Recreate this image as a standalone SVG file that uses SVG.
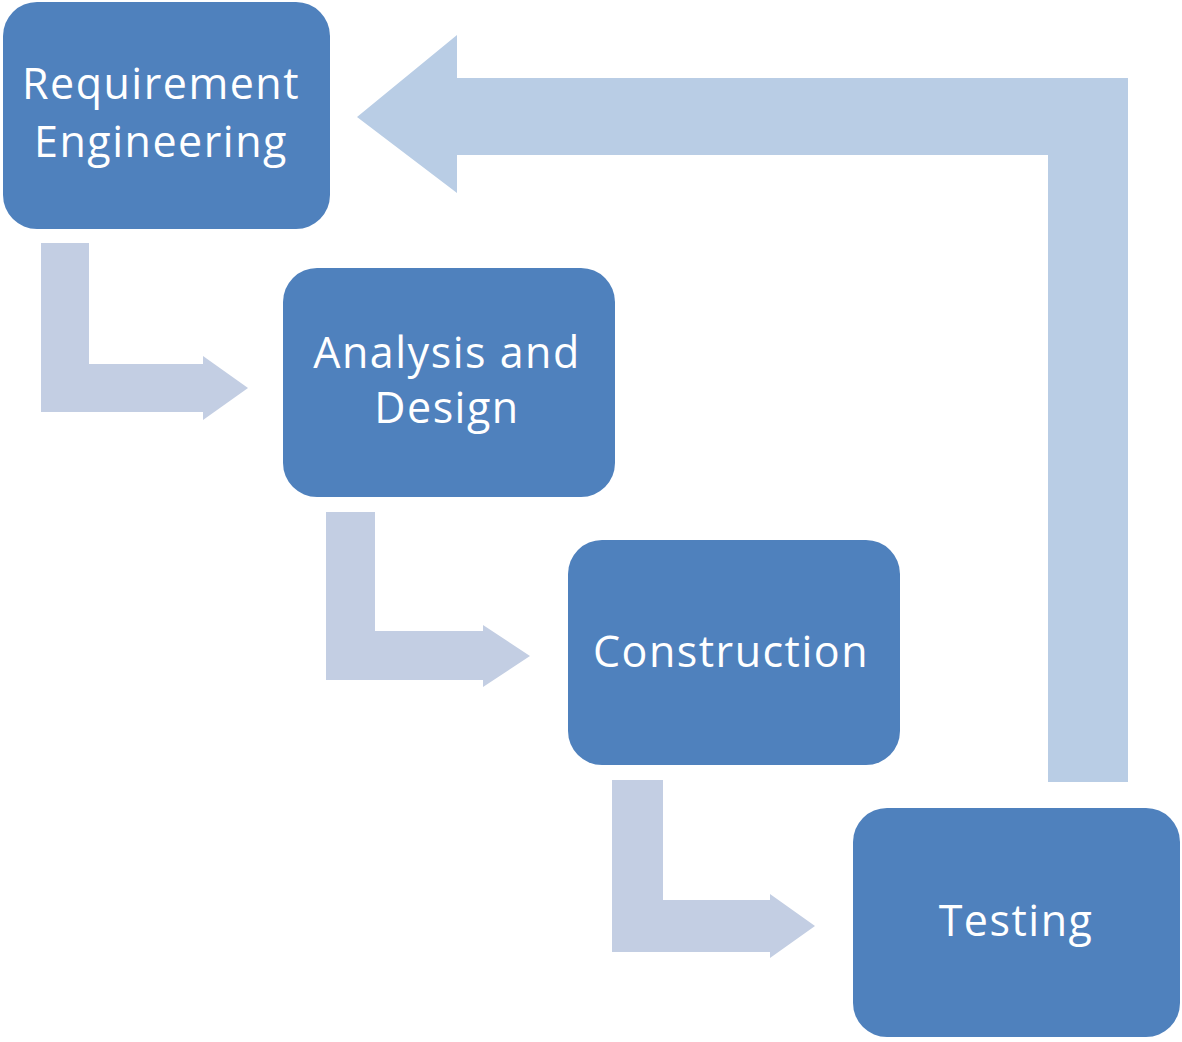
<svg xmlns="http://www.w3.org/2000/svg" width="1182" height="1042" viewBox="0 0 1182 1042">
<style>
.box{fill:#4F81BD;}
.arr{fill:#C3CEE3;}
.big{fill:#B9CDE5;}
.lbl{font-family:"Open Sans","Noto Sans","DejaVu Sans",sans-serif;font-size:43px;letter-spacing:1.5px;fill:#FFFFFF;text-anchor:middle;}
</style>
<rect width="1182" height="1042" fill="#FFFFFF"/>
<g id="connectors">
<path class="big" d="M357,117 L457,35 L457,78 L1128,78 L1128,782 L1048,782 L1048,155 L457,155 L457,193 Z"/>
<path class="arr" d="M41,243 L89,243 L89,364 L203,364 L203,356 L248,388 L203,420 L203,412 L41,412 Z"/>
<path class="arr" d="M326,512 L375,512 L375,631 L483,631 L483,625 L530,656 L483,687 L483,680 L326,680 Z"/>
<path class="arr" d="M612,780 L663,780 L663,900 L770,900 L770,894 L815,926 L770,958 L770,952 L612,952 Z"/>
</g>
<g id="node-requirement">
<rect class="box" x="3" y="2" width="327" height="227" rx="34"/>
<text class="lbl" x="161" y="99">Requirement</text>
<text class="lbl" x="161" y="157">Engineering</text>
</g>
<g id="node-analysis">
<rect class="box" x="283" y="268" width="332" height="229" rx="34"/>
<text class="lbl" x="447" y="368">Analysis and</text>
<text class="lbl" x="447" y="423">Design</text>
</g>
<g id="node-construction">
<rect class="box" x="568" y="540" width="332" height="225" rx="34"/>
<text class="lbl" x="731" y="667">Construction</text>
</g>
<g id="node-testing">
<rect class="box" x="853" y="808" width="327" height="229" rx="34"/>
<text class="lbl" x="1016" y="936">Testing</text>
</g>
</svg>
